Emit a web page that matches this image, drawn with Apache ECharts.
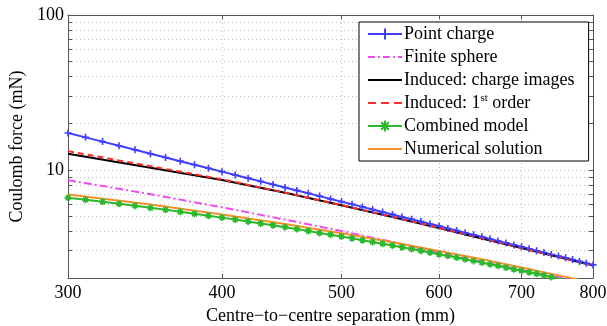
<!DOCTYPE html>
<html>
<head>
<meta charset="utf-8">
<script src="https://cdn.jsdelivr.net/npm/echarts@6/dist/echarts.min.js"></script>
<style>
html,body{margin:0;padding:0;background:#fff;}
#c{width:607px;height:326px;}
</style>
</head>
<body>
<div id="c"></div>
<script>
// Centre-to-centre separation (mm), fine sampling (markers every 10 mm)
const sepFine = [300,310,320,330,340,350,360,370,380,390,400,410,420,430,440,450,460,470,480,490,500,
  510,520,530,540,550,560,570,580,590,600,610,620,630,640,650,660,670,680,690,700,
  710,720,730,740,750,760,770,780,790,800];
const pointCharge = [17.30,16.20,15.21,14.30,13.47,12.71,12.01,11.37,10.78,10.24,9.73,9.26,8.83,8.42,8.04,7.69,
  7.36,7.05,6.76,6.48,6.23,5.99,5.76,5.54,5.34,5.15,4.96,4.79,4.63,4.47,4.33,4.18,4.05,3.92,3.80,3.69,
  3.57,3.47,3.37,3.27,3.18,3.09,3.00,2.92,2.84,2.77,2.70,2.63,2.56,2.49,2.43];
const combinedModel = [6.60,6.41,6.22,6.03,5.86,5.68,5.52,5.36,5.20,5.05,4.91,4.77,4.63,4.50,4.38,4.26,
  4.14,4.02,3.91,3.81,3.71,3.61,3.51,3.42,3.33,3.24,3.16,3.08,3.00,2.92,2.85,2.78,2.71,2.64,2.58,2.52,
  2.45,2.40,2.34,2.28,2.23,2.18,2.13,2.08,2.03,1.98,1.94,1.89,1.85,1.81,1.77];
// Coarse sampling (every 50 mm) for the unmarked curves
const sepCoarse = [300,350,400,450,500,550,600,650,700,750,800];
const finiteSphere = [8.57,6.96,5.72,4.77,4.02,3.42,2.92,2.54,2.25,2.02,1.82];
const chargeImages = [12.7,10.3,8.6,7.1,5.9,4.95,4.2,3.6,3.12,2.73,2.41];
const firstOrder = [13.2,10.55,8.68,7.12,5.92,4.97,4.22,3.61,3.13,2.74,2.42];
const numerical = [6.93,5.97,5.15,4.47,3.89,3.40,2.99,2.64,2.34,2.08,1.86];

const xTicks = [300,400,500,600,700,800];
const yTicks = [2,3,4,5,6,7,8,9,10,20,30,40,50,60,70,80,90,100];
const yLabels = [10,100];

const seriesNames = ['Point charge','Finite sphere','Induced: charge images','Induced: 1st order','Combined model','Numerical solution'];
const colors = ['#3f3fff','#f04af0','#000000','#ff2a2a','#2cb82c','#f7902a'];
const dashes = ['solid',[8,3,2,3],'solid',[6,4],'solid','solid'];

function pairs(xs, ys){ return xs.map((x,i)=>[x, ys[i]]); }

const FONT = 'Liberation Serif';
const AX = '#555';
const plusPath = 'path://M0,5L10,5M5,0L5,10';
const starPath = 'path://M0,5L10,5M5,0L5,10M1.6,1.6L8.4,8.4M8.4,1.6L1.6,8.4';
// legend key shapes (34 x 14 box, 2px stroke in the middle)
const keySolid = 'path://M0,0M34,14M0,6L34,6L34,8L0,8Z';
const keyDashDot = 'path://M0,0M34,14M0,6L7,6L7,8L0,8ZM10,6L12,6L12,8L10,8ZM15,6L22,6L22,8L15,8ZM25,6L27,6L27,8L25,8ZM30,6L34,6L34,8L30,8Z';
const keyDashed = 'path://M0,0M34,14M0,6L8,6L8,8L0,8ZM13,6L21,6L21,8L13,8ZM26,6L34,6L34,8L26,8Z';
const keyIcons = [null, keyDashDot, keySolid, keyDashed, null, keySolid];

function legendItem(i){
  const it = {name:seriesNames[i]};
  if (keyIcons[i]){ it.icon = keyIcons[i]; it.itemStyle = {color:colors[i], borderWidth:0}; }
  return it;
}

// legend text drawn as serif text on top of the legend box
const ctx = document.createElement('canvas').getContext('2d');
ctx.font = '18px "Liberation Serif"';
const wBase = ctx.measureText('Induced: 1').width;
ctx.font = '11px "Liberation Serif"';
const wSup = ctx.measureText('st').width;
const LX = 404;
const rowY = [34,57,80,103,126,149];
function txt(x, y, s, size){
  return {type:'text', x:x, y:y, z:100, silent:true,
    style:{text:s, font:size + 'px "Liberation Serif"', fontSize:size, fontFamily:FONT,
      fill:'#000', align:'left', verticalAlign:'middle'}};
}
const legendTexts = [
  txt(LX, rowY[0], seriesNames[0], 18),
  txt(LX, rowY[1], seriesNames[1], 18),
  txt(LX, rowY[2], seriesNames[2], 18),
  txt(LX, rowY[3], 'Induced: 1', 18),
  txt(LX + wBase, rowY[3] - 4.5, 'st', 11),
  txt(LX + wBase + wSup, rowY[3], ' order', 18),
  txt(LX, rowY[4], seriesNames[4], 18),
  txt(LX, rowY[5], seriesNames[5], 18)
];

const chart = echarts.init(document.getElementById('c'), null, {renderer:'canvas'});

const xBase = {
  type:'log', min:300, max:800, logBase:10,
  axisLine:{show:true, lineStyle:{color:AX, width:1}},
  axisTick:{show:true, inside:true, length:4, customValues:xTicks, lineStyle:{color:AX}},
  splitLine:{show:false},
  axisLabel:{show:false}
};
const yBase = {
  type:'log', min:2, max:100, logBase:10,
  axisLine:{show:true, lineStyle:{color:AX, width:1}},
  axisTick:{show:true, inside:true, length:4, customValues:yTicks, lineStyle:{color:AX}},
  splitLine:{show:false},
  axisLabel:{show:false}
};

chart.setOption({
  animation:false,
  backgroundColor:'#fff',
  textStyle:{fontFamily:FONT},
  grid:{left:68, right:14, top:15, bottom:48, containLabel:false, outerBoundsMode:'none'},
  legend:{
    orient:'vertical', left:359, top:22,
    data:[legendItem(0), legendItem(1), legendItem(2), legendItem(3), legendItem(4), legendItem(5)],
    selectedMode:false,
    backgroundColor:'#fff', borderColor:'#000', borderWidth:1,
    padding:[3,11,3,8],
    itemGap:5, itemWidth:34, itemHeight:14,
    textStyle:{fontSize:18, lineHeight:18, color:'rgba(0,0,0,0)'}
  },
  graphic:legendTexts,
  xAxis:[
    Object.assign({}, xBase, {
      position:'bottom',
      name:'Centre\u2212to\u2212centre separation (mm)',
      nameLocation:'middle', nameGap:16,
      nameTextStyle:{fontFamily:FONT, fontSize:18, color:'#000', verticalAlign:'top'},
      splitLine:{show:true, lineStyle:{color:'#bdbdbd', width:1, type:[1,3]}},
      axisLabel:{show:true, customValues:xTicks, margin:6, fontFamily:FONT, fontSize:18, color:'#000'}
    }),
    Object.assign({}, xBase, {position:'top'})
  ],
  yAxis:[
    Object.assign({}, yBase, {
      position:'left',
      name:'Coulomb force (mN)',
      nameLocation:'middle', nameGap:37, nameRotate:90,
      nameTextStyle:{fontFamily:FONT, fontSize:18, color:'#000'},
      splitLine:{show:true, lineStyle:{color:'#bdbdbd', width:1, type:[1,3]}},
      axisLabel:{show:true, customValues:yLabels, margin:4, fontFamily:FONT, fontSize:18, color:'#000'}
    }),
    Object.assign({}, yBase, {position:'right'})
  ],
  series:[
    {name:seriesNames[0], type:'line', xAxisIndex:0, yAxisIndex:0, data:pairs(sepFine, pointCharge),
      symbol:plusPath, symbolSize:7, showSymbol:true,
      lineStyle:{color:colors[0], width:2},
      itemStyle:{color:colors[0], borderColor:colors[0], borderWidth:1.6}},
    {name:seriesNames[1], type:'line', xAxisIndex:0, yAxisIndex:0, data:pairs(sepCoarse, finiteSphere),
      showSymbol:false, symbol:'none',
      lineStyle:{color:colors[1], width:2, type:dashes[1]},
      itemStyle:{color:colors[1]}},
    {name:seriesNames[2], type:'line', xAxisIndex:0, yAxisIndex:0, data:pairs(sepCoarse, chargeImages),
      showSymbol:false, symbol:'none',
      lineStyle:{color:colors[2], width:2},
      itemStyle:{color:colors[2]}},
    {name:seriesNames[3], type:'line', xAxisIndex:0, yAxisIndex:0, data:pairs(sepCoarse, firstOrder),
      showSymbol:false, symbol:'none',
      lineStyle:{color:colors[3], width:2, type:dashes[3]},
      itemStyle:{color:colors[3]}},
    {name:seriesNames[4], type:'line', xAxisIndex:0, yAxisIndex:0, data:pairs(sepFine, combinedModel),
      symbol:starPath, symbolSize:7, showSymbol:true,
      lineStyle:{color:colors[4], width:2},
      itemStyle:{color:colors[4], borderColor:colors[4], borderWidth:1.6}},
    {name:seriesNames[5], type:'line', xAxisIndex:0, yAxisIndex:0, data:pairs(sepCoarse, numerical),
      showSymbol:false, symbol:'none',
      lineStyle:{color:colors[5], width:2},
      itemStyle:{color:colors[5]}}
  ]
});
</script>
</body>
</html>
